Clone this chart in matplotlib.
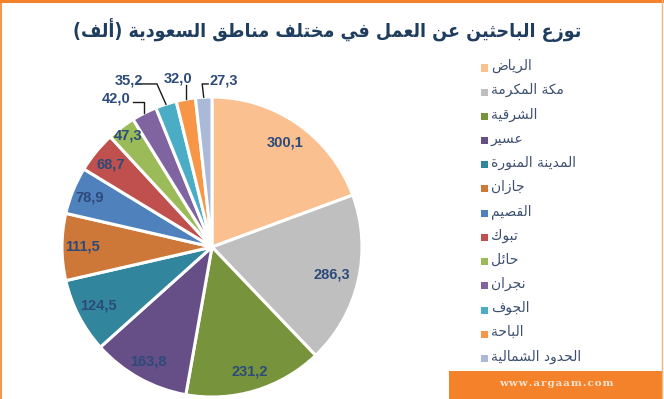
import matplotlib
matplotlib.use("Agg")
import matplotlib.pyplot as plt
import numpy as np
from matplotlib import font_manager as fm
from matplotlib.ft2font import FT2Font
from matplotlib.patches import Rectangle
from matplotlib.lines import Line2D

# ---------------- data ----------------
title = "توزع الباحثين عن العمل في مختلف مناطق السعودية (ألف)"
regions = ["الرياض", "مكة المكرمة", "الشرقية", "عسير", "المدينة المنورة", "جازان",
           "القصيم", "تبوك", "حائل", "نجران", "الجوف", "الباحة", "الحدود الشمالية"]
values = [300.1, 286.3, 231.2, 163.8, 124.5, 111.5, 78.9, 68.7, 47.3, 42.0, 35.2, 32.0, 27.3]
colors = ["#FAC090", "#BFBFBF", "#77933C", "#664E86", "#31859C", "#CD7838",
          "#4F81BD", "#C0504D", "#9BBB59", "#8064A2", "#4BACC6", "#F79646", "#AAB9D8"]
source = "www.argaam.com"

# ---------------- Arabic shaping (presentation forms + RTL order) ----------------
DUAL = {0x0626: 0xFE89, 0x0628: 0xFE8F, 0x062A: 0xFE95, 0x062B: 0xFE99, 0x062C: 0xFE9D,
        0x062D: 0xFEA1, 0x062E: 0xFEA5, 0x0633: 0xFEB1, 0x0634: 0xFEB5, 0x0635: 0xFEB9,
        0x0636: 0xFEBD, 0x0637: 0xFEC1, 0x0638: 0xFEC5, 0x0639: 0xFEC9, 0x063A: 0xFECD,
        0x0641: 0xFED1, 0x0642: 0xFED5, 0x0643: 0xFED9, 0x0644: 0xFEDD, 0x0645: 0xFEE1,
        0x0646: 0xFEE5, 0x0647: 0xFEE9, 0x064A: 0xFEF1}
RIGHT = {0x0622: 0xFE81, 0x0623: 0xFE83, 0x0624: 0xFE85, 0x0625: 0xFE87, 0x0627: 0xFE8D,
         0x0629: 0xFE93, 0x062F: 0xFEA9, 0x0630: 0xFEAB, 0x0631: 0xFEAD, 0x0632: 0xFEAF,
         0x0648: 0xFEED, 0x0649: 0xFEEF}
LAMALEF = {0x0622: 0xFEF5, 0x0623: 0xFEF7, 0x0625: 0xFEF9, 0x0627: 0xFEFB}
MIRROR = {"(": ")", ")": "("}


def shape_ar(s):
    cps = [ord(c) for c in s]
    n = len(cps)
    out = []
    i = 0
    while i < n:
        c = cps[i]
        if c not in DUAL and c not in RIGHT:
            ch = chr(c)
            out.append(MIRROR.get(ch, ch))
            i += 1
            continue
        prev = cps[i - 1] if i > 0 else None
        jp = prev is not None and prev in DUAL
        if c == 0x0644 and i + 1 < n and cps[i + 1] in LAMALEF:
            base = LAMALEF[cps[i + 1]]
            out.append(chr(base + 1 if jp else base))
            i += 2
            continue
        nxt = cps[i + 1] if i + 1 < n else None
        jn = c in DUAL and nxt is not None and (nxt in DUAL or nxt in RIGHT)
        if c in DUAL:
            base = DUAL[c]
            if jp and jn:
                g = base + 3
            elif jp:
                g = base + 1
            elif jn:
                g = base + 2
            else:
                g = base
        else:
            base = RIGHT[c]
            g = base + 1 if jp else base
        out.append(chr(g))
        i += 1
    return "".join(reversed(out))


_need = (0xFEDF, 0xFE8E, 0xFEE4, 0xFEB7, 0xFE97, 0xFEF2)
_cands = []
for _f in fm.fontManager.ttflist:
    try:
        _cm = FT2Font(_f.fname).get_charmap()
    except Exception:
        continue
    if all(c in _cm for c in _need):
        _cands.append(_f)


def find_arabic_font(bold, condensed=False):
    pref = ["DejaVu Sans", "Noto Sans Arabic", "Noto Naskh Arabic", "FreeSans"]

    def score(f):
        w = f.weight if isinstance(f.weight, int) else (700 if "bold" in str(f.weight).lower() else 400)
        s = 0
        s += 0 if (w >= 600) == bold else 10
        s += 0 if f.style == "normal" else 5
        is_cond = "condensed" in str(f.stretch).lower() or "condensed" in f.fname.lower()
        s += 0 if is_cond == condensed else 2
        s += pref.index(f.name) if f.name in pref else 8
        return s
    if _cands:
        best = min(_cands, key=score)
        return fm.FontProperties(fname=best.fname)
    return fm.FontProperties(family="DejaVu Sans", weight="bold" if bold else "normal")


ar_title = find_arabic_font(True, condensed=True)
ar_reg = find_arabic_font(False)

# ---------------- figure ----------------
W, H = 664, 399
fig = plt.figure(figsize=(W / 100, H / 100), dpi=100)
fig.patch.set_facecolor("white")

# pie axes: center (212,247) px, radius 150 px
cx, cy, R = 212, 247, 150
ax = fig.add_axes([(cx - R) / W, (H - cy - R) / H, 2 * R / W, 2 * R / H])
wedges, _ = ax.pie(values, colors=colors, startangle=90, counterclock=False, radius=1.0,
                   wedgeprops=dict(edgecolor="white", linewidth=2.2))
ax.set_xlim(-1, 1)
ax.set_ylim(-1, 1)
ax.set_aspect("equal")
ax.axis("off")

lab_color = "#2C4A7A"
lab_font = dict(family=["Liberation Sans", "DejaVu Sans"], weight="bold", size=10.5)
inside_r = [0.85, 0.82, 0.87, 0.875, 0.85, 0.86, 0.88, 0.87, 0.93]


def fmt(v):
    return f"{v:.1f}".replace(".", ",")


for i, w in enumerate(wedges):
    mid = np.deg2rad((w.theta1 + w.theta2) / 2)
    ex, ey = np.cos(mid), np.sin(mid)
    if i < len(inside_r):
        r = inside_r[i]
        ax.text(r * ex, r * ey, fmt(values[i]), ha="center", va="center",
                color=lab_color, **lab_font)

# leader-line labels for the four smallest slices (layout in radius units)
leader_layout = {
    9: dict(elbow_y=0.967, end_dx=-0.075, text=(-0.54, 0.99), ha="right"),
    10: dict(elbow_y=1.087, elbow_dx=-0.06, end_dx=-0.135, text=(-0.46, 1.11), ha="right"),
    11: dict(elbow_y=1.08, end_dx=0.0, text=(-0.225, 1.125), ha="center"),
    12: dict(elbow_y=1.087, elbow_dx=-0.01, end_dx=0.04, text=(-0.015, 1.11), ha="left"),
}
for i, lay in leader_layout.items():
    w = wedges[i]
    mid = np.deg2rad((w.theta1 + w.theta2) / 2)
    ex, ey = np.cos(mid), np.sin(mid)
    bx = ex + lay.get("elbow_dx", 0.0)
    by = lay["elbow_y"]
    xs = [ex, bx, bx + lay["end_dx"]]
    ys = [ey, by, by]
    ax.add_line(Line2D(xs, ys, color="#1a1a1a", lw=1.0, clip_on=False))
    tx, ty = lay["text"]
    ax.text(tx, ty, fmt(values[i]), ha=lay["ha"], va="center", color=lab_color,
            clip_on=False, **lab_font)

# ---------------- title (fit to reference width) ----------------
title_color = "#1F3D5E"
t = fig.text(327 / W, 1 - 30 / H, shape_ar(title), ha="center", va="center",
             fontproperties=ar_title, fontsize=17, color=title_color)
fig.canvas.draw()
r_ = fig.canvas.get_renderer()
bb = t.get_window_extent(r_)
t.set_fontsize(17 * 505 / bb.width)

# ---------------- legend (manual) ----------------
leg_color = "#3D5070"
leg_y0, leg_dy = 67, 24.2
for k, (name, col) in enumerate(zip(regions, colors)):
    y = leg_y0 + k * leg_dy
    fig.patches.append(Rectangle((481 / W, 1 - (y + 4.5) / H), 7 / W, 7 / H,
                                 transform=fig.transFigure, facecolor=col,
                                 edgecolor="none"))
    fig.text(491 / W, 1 - (y - 1) / H, shape_ar(name), ha="left", va="center",
             fontproperties=ar_reg, fontsize=10, color=leg_color)

# ---------------- bottom band + border ----------------
orange = "#F3822A"
fig.patches.append(Rectangle((449 / W, 0), (662 - 449) / W, 28 / H,
                             transform=fig.transFigure, facecolor=orange, edgecolor="none"))
fig.text(556 / W, 1 - 384 / H, "\u200a".join(source), ha="center", va="center",
         color="#FBE3CF", fontsize=7.5, family="DejaVu Serif", weight="bold")

fig.add_artist(Line2D([0, 1], [1 - 1 / H, 1 - 1 / H], transform=fig.transFigure,
                      color=orange, lw=2.2))
fig.add_artist(Line2D([1 / W, 1 / W], [0, 1], transform=fig.transFigure, color=orange, lw=1.2))
fig.add_artist(Line2D([1 - 2 / W, 1 - 2 / W], [0, 1], transform=fig.transFigure,
                      color="#F7B37A", lw=1.0))

fig.savefig("out.png", dpi=100, facecolor="white")
